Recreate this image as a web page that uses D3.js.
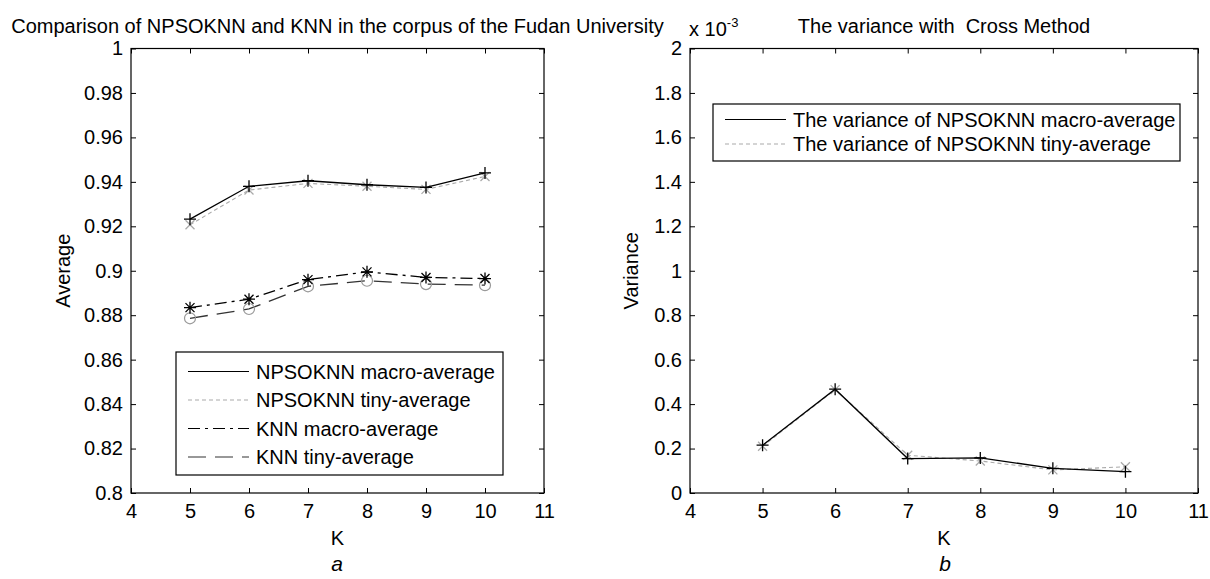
<!DOCTYPE html>
<html>
<head>
<meta charset="utf-8">
<script src="https://cdn.jsdelivr.net/npm/d3@7"></script>
<style>
  body { margin: 0; background: #fff; }
  svg { display: block; }
  text { font-family: "Liberation Sans", Arial, sans-serif; fill: #000; }
</style>
</head>
<body>
<div id="d3-container"></div>
<script>
/**
 * DATA
 * */
const kValues = [5, 6, 7, 8, 9, 10];
const xTicks = [4, 5, 6, 7, 8, 9, 10, 11];

// panel a: averages
const npsoMacroAvg = [0.9232, 0.9380, 0.9405, 0.9387, 0.9375, 0.9440];
const npsoTinyAvg = [0.9207, 0.9363, 0.9393, 0.9380, 0.9366, 0.9424];
const knnMacroAvg = [0.8834, 0.8872, 0.8960, 0.8995, 0.8970, 0.8965];
const knnTinyAvg = [0.8786, 0.8828, 0.8930, 0.8955, 0.8940, 0.8935];
const avgTicks = [0.8, 0.82, 0.84, 0.86, 0.88, 0.9, 0.92, 0.94, 0.96, 0.98, 1];
const avgLegend = ["NPSOKNN macro-average", "NPSOKNN tiny-average", "KNN macro-average", "KNN tiny-average"];

// panel b: variances (x 10^-3)
const varMacro = [0.215, 0.467, 0.155, 0.158, 0.111, 0.096];
const varTiny = [0.210, 0.465, 0.170, 0.144, 0.104, 0.118];
const varTicks = [0, 0.2, 0.4, 0.6, 0.8, 1, 1.2, 1.4, 1.6, 1.8, 2];
const varLegend = ["The variance of NPSOKNN macro-average", "The variance of NPSOKNN tiny-average"];

const titleA = "Comparison of NPSOKNN and KNN in the corpus of the Fudan University";
const titleB = "The variance with  Cross Method";

/**
 * CONSTANTS
 * */
const width = 1210, height = 579;
const fontSize = 20;
const plotTop = 48.5, plotBottom = 493;

const svg = d3.select("#d3-container")
  .append("svg")
  .attr("width", width)
  .attr("height", height);

// marker shapes (matlab style)
const markers = {
  plus: "M-6,0H6M0,-6V6",
  cross: "M-4.5,-4.5L4.5,4.5M-4.5,4.5L4.5,-4.5",
  star: "M-6,0H6M0,-6V6M-4.5,-4.5L4.5,4.5M-4.5,4.5L4.5,-4.5",
};

// draws one boxed matlab-like panel, returns scales
function drawPanel(left, right, yDomain, yTicks, yFormat, yLabel, yLabelOffset, title) {
  const x = d3.scaleLinear().domain([4, 11]).range([left, right]);
  const y = d3.scaleLinear().domain(yDomain).range([plotBottom, plotTop]);
  const g = svg.append("g");

  // ticks on all four sides, pointing inward
  g.append("g").attr("transform", `translate(0,${plotBottom})`)
    .call(d3.axisBottom(x).tickValues(xTicks).tickSizeInner(-5).tickSizeOuter(0).tickPadding(11).tickFormat(d3.format("d")));
  g.append("g").attr("transform", `translate(0,${plotTop})`)
    .call(d3.axisTop(x).tickValues(xTicks).tickSizeInner(-5).tickSizeOuter(0).tickFormat(""));
  g.append("g").attr("transform", `translate(${left},0)`)
    .call(d3.axisLeft(y).tickValues(yTicks).tickSizeInner(-5).tickSizeOuter(0).tickPadding(8).tickFormat(yFormat));
  g.append("g").attr("transform", `translate(${right},0)`)
    .call(d3.axisRight(y).tickValues(yTicks).tickSizeInner(-5).tickSizeOuter(0).tickFormat(""));

  g.selectAll(".domain").remove();
  g.selectAll(".tick line").attr("stroke", "#000");
  g.selectAll(".tick text").attr("font-size", fontSize).attr("font-family", "Liberation Sans, Arial, sans-serif");

  g.append("rect")
    .attr("x", left).attr("y", plotTop)
    .attr("width", right - left).attr("height", plotBottom - plotTop)
    .attr("fill", "none").attr("stroke", "#000").attr("stroke-width", 1.2);

  // labels
  const cx = (left + right) / 2;
  g.append("text").attr("x", cx).attr("y", 545).attr("text-anchor", "middle")
    .attr("font-size", fontSize).text("K");
  g.append("text")
    .attr("transform", `translate(${left - yLabelOffset},${(plotTop + plotBottom) / 2}) rotate(-90)`)
    .attr("text-anchor", "middle").attr("font-size", fontSize).text(yLabel);
  g.append("text").attr("x", cx).attr("y", 33).attr("text-anchor", "middle")
    .attr("font-size", fontSize).style("white-space", "pre").text(title);

  return { x, y, g };
}

function drawSeries(panel, values, style) {
  const data = kValues.map((k, i) => [k, values[i]]);
  const line = d3.line().x(d => panel.x(d[0])).y(d => panel.y(d[1]));
  panel.g.append("path")
    .datum(data)
    .attr("d", line)
    .attr("fill", "none")
    .attr("stroke", style.color)
    .attr("stroke-width", style.width || 1.3)
    .attr("stroke-dasharray", style.dash || null);

  if (style.marker === "circle") {
    panel.g.selectAll(null).data(data).join("circle")
      .attr("cx", d => panel.x(d[0])).attr("cy", d => panel.y(d[1]))
      .attr("r", 5.5).attr("fill", "none")
      .attr("stroke", style.markerColor || style.color).attr("stroke-width", 1.2);
  } else {
    panel.g.selectAll(null).data(data).join("path")
      .attr("transform", d => `translate(${panel.x(d[0])},${panel.y(d[1])})`)
      .attr("d", markers[style.marker])
      .attr("fill", "none")
      .attr("stroke", style.markerColor || style.color).attr("stroke-width", 1.3);
  }
}

function drawLegend(panel, box, labels, styles) {
  const lg = panel.g.append("g");
  lg.append("rect")
    .attr("x", box.x).attr("y", box.y).attr("width", box.w).attr("height", box.h)
    .attr("fill", "#fff").attr("stroke", "#000").attr("stroke-width", 1.2);
  labels.forEach((lab, i) => {
    const yy = box.y + box.first + i * box.step;
    lg.append("line")
      .attr("x1", box.x + box.lineX).attr("x2", box.x + box.lineX + 61)
      .attr("y1", yy).attr("y2", yy)
      .attr("stroke", styles[i].color).attr("stroke-width", 1.2)
      .attr("stroke-dasharray", styles[i].dash || null);
    lg.append("text")
      .attr("x", box.x + box.lineX + 68).attr("y", yy).attr("dy", "0.35em")
      .attr("font-size", fontSize).text(lab);
  });
}

/**
 * PANEL A
 * */
const avgStyles = [
  { color: "#000", marker: "plus" },
  { color: "#aaa", dash: "4,3", marker: "cross", width: 1.1 },
  { color: "#000", dash: "12,5,3,5", marker: "star" },
  { color: "#333", dash: "18,9", marker: "circle", markerColor: "#999" },
];
const panelA = drawPanel(131, 544, [0.8, 1], avgTicks, d3.format(""), "Average", 61, titleA);
drawSeries(panelA, knnTinyAvg, avgStyles[3]);
drawSeries(panelA, knnMacroAvg, avgStyles[2]);
drawSeries(panelA, npsoTinyAvg, avgStyles[1]);
drawSeries(panelA, npsoMacroAvg, avgStyles[0]);
drawLegend(panelA, { x: 176, y: 352, w: 327, h: 123, first: 19.5, step: 28.5, lineX: 12 }, avgLegend, avgStyles);

/**
 * PANEL B
 * */
const varStyles = [
  { color: "#000", marker: "plus" },
  { color: "#aaa", dash: "4,3", marker: "cross", width: 1.1 },
];
const panelB = drawPanel(690, 1198, [0, 2], varTicks, d3.format(""), "Variance", 52, titleB);
drawSeries(panelB, varTiny, varStyles[1]);
drawSeries(panelB, varMacro, varStyles[0]);
drawLegend(panelB, { x: 713, y: 104, w: 467, h: 57, first: 15.5, step: 24.5, lineX: 12 }, varLegend, varStyles);

// exponent note above panel b
const expo = svg.append("text").attr("x", 689).attr("y", 36).attr("font-size", fontSize);
expo.append("tspan").text("x 10");
expo.append("tspan").attr("dy", -9).attr("font-size", 13).text("-3");

// sub-figure letters
svg.append("text").attr("x", 337).attr("y", 571).attr("text-anchor", "middle")
  .attr("font-size", 21).attr("font-style", "italic")
  .attr("font-family", "Liberation Serif, Times New Roman, serif").text("a");
svg.append("text").attr("x", 945).attr("y", 571).attr("text-anchor", "middle")
  .attr("font-size", 21).attr("font-style", "italic")
  .attr("font-family", "Liberation Serif, Times New Roman, serif").text("b");
</script>
</body>
</html>
